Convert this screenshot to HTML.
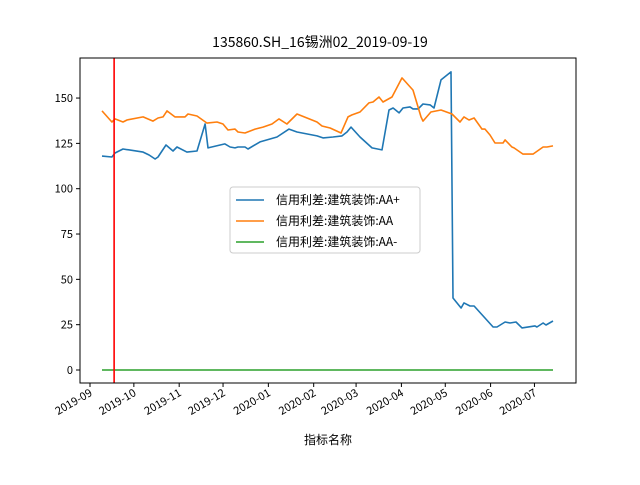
<!DOCTYPE html>
<html><head><meta charset="utf-8"><style>
body{margin:0;background:#fff}
text{font-family:"WenQuanYi Zen Hei","Noto Sans CJK SC",sans-serif}
</style></head><body>
<svg id="chart" width="640" height="480" xmlns="http://www.w3.org/2000/svg"></svg>
<script>
const tickLabels=["2019-09","2019-10","2019-11","2019-12","2020-01","2020-02","2020-03","2020-04","2020-05","2020-06","2020-07"];
const tickDays=[0,30,61,91,122,153,182,213,243,274,304];
const yTicks=[0,25,50,75,100,125,150];
const seriesNames=["信用利差:建筑装饰:AA+","信用利差:建筑装饰:AA","信用利差:建筑装饰:AA-"];
const markerDay=16.5;
const aaPlusDays=[8.2,15.0,17.1,22.6,36.3,40.4,44.5,46.5,52.0,56.8,59.5,66.3,73.2,78.7,80.7,92.3,95.8,99.2,101.2,106.0,108.1,116.3,127.9,136.1,141.6,155.3,159.4,166.2,172.4,175.8,178.5,184.7,192.9,199.7,204.5,207.3,211.4,214.1,218.9,220.9,224.4,227.8,232.6,235.3,240.1,246.9,248.3,253.8,255.8,259.9,262.7,275.7,278.4,283.9,287.3,291.4,295.5,304.4,305.7,309.9,311.9,316.7];
const aaPlusVals=[118.0,117.5,119.7,121.9,120.2,118.6,116.4,117.5,124.1,120.8,123.0,120.2,120.8,135.7,122.5,124.7,123.0,122.5,123.0,123.0,121.9,125.8,128.5,132.9,131.3,129.1,128.0,128.5,129.1,131.3,134.0,128.5,122.5,121.4,143.4,144.5,141.8,144.5,145.1,144.0,144.0,146.7,146.2,144.5,160.0,164.4,39.7,34.2,37.0,35.3,35.3,23.7,23.7,26.5,25.9,26.5,23.2,24.3,23.7,25.9,24.8,27.0];
const aaDays=[8.2,15.0,17.1,22.6,25.3,36.3,43.1,46.5,49.9,52.7,58.1,65.0,67.0,73.2,80.0,86.9,91.0,94.4,99.2,101.2,106.0,112.9,118.3,124.5,129.3,134.7,141.6,155.3,158.7,164.2,171.7,176.5,179.2,184.7,190.8,193.6,197.7,200.4,206.6,213.4,220.9,226.4,227.8,233.2,240.1,247.6,253.1,255.8,259.2,262.7,268.1,270.2,273.6,277.0,282.5,283.9,288.6,290.0,296.2,303.0,309.9,312.6,316.7];
const aaVals=[142.9,136.8,138.5,136.8,137.9,139.6,137.3,139.0,139.6,142.9,139.6,139.6,141.2,140.1,136.2,136.8,135.7,132.4,132.9,131.3,130.7,132.9,134.0,135.7,138.5,135.7,141.2,136.8,134.6,133.5,130.7,139.6,140.7,142.3,147.3,147.8,150.6,147.8,150.6,161.1,154.4,139.6,137.3,142.3,143.4,141.2,136.8,139.6,137.9,139.0,132.9,132.9,129.6,125.2,125.2,126.9,123.0,122.5,119.1,119.1,123.0,123.0,123.6];
const aaMinusDays=[8.2,316.7];
const aaMinusVals=[0,0];
const colors=["#1f77b4","#ff7f0e","#2ca02c"];
const X=d=>90+d*1.462, Y=v=>370-v*1.813;
const svg=document.getElementById('chart'),NS="http://www.w3.org/2000/svg";
function mk(t,a,txt){const e=document.createElementNS(NS,t);for(const k in a)e.setAttribute(k,a[k]);if(txt!=null)e.textContent=txt;svg.appendChild(e);return e;}
let e;
e=mk('text',{x:320,y:47,'text-anchor':'middle','font-size':14},'135860.SH_16锡洲02_2019-09-19');


yTicks.forEach(v=>{
 e=mk('line',{x1:76,x2:80,y1:Y(v),y2:Y(v),stroke:'#000'});
 
 
 e=mk('text',{x:73,y:Y(v)+4,'text-anchor':'end','font-size':11},String(v));
 
 
});
tickDays.forEach((d,i)=>{
 e=mk('line',{x1:X(d),x2:X(d),y1:383,y2:387,stroke:'#000'});
 
 
 e=mk('text',{x:X(d)+3,y:395,'text-anchor':'end','font-size':11,transform:`rotate(-30 ${X(d)+3} 395)`},tickLabels[i]);
 
 
});
e=mk('text',{x:328,y:444,'text-anchor':'middle','font-size':12},'指标名称');


[[aaPlusDays,aaPlusVals],[aaDays,aaVals],[aaMinusDays,aaMinusVals]].forEach((s,i)=>{
 const pts=s[0].map((d,j)=>X(d).toFixed(1)+','+Y(s[1][j]).toFixed(1)).join(' ');
 e=mk('polyline',{points:pts,fill:'none',stroke:colors[i],'stroke-width':1.6,'stroke-linejoin':'round'});
 
 
});
e=mk('line',{x1:X(markerDay),x2:X(markerDay),y1:58,y2:383,stroke:'#ff0000','stroke-width':1.6});


e=mk('rect',{x:80,y:58,width:496,height:325,fill:'none',stroke:'#000','stroke-width':1});


e=mk('rect',{x:230,y:187,width:190,height:66,fill:'#fff','fill-opacity':0.8,stroke:'#ccc',rx:3});


seriesNames.forEach((n,i)=>{
 const y=200+i*21;
 e=mk('line',{x1:236,x2:264,y1:y,y2:y,stroke:colors[i],'stroke-width':1.6});
 
 
 e=mk('text',{x:276,y:y+4,'font-size':12},n);
 
 
});
</script>
</body></html>
